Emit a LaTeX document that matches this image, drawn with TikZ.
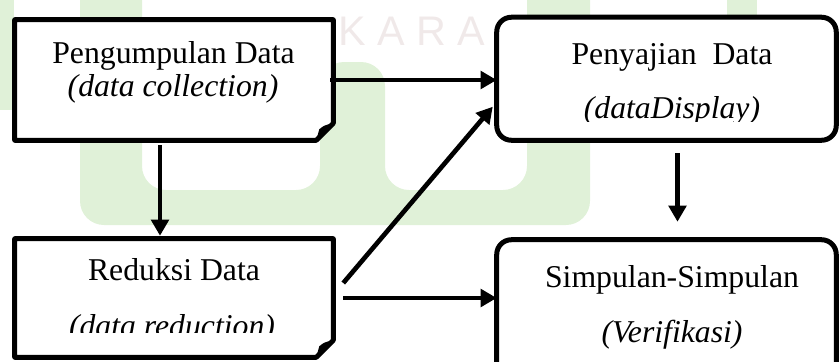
\documentclass[tikz,border=0pt]{standalone}
\usepackage{fontspec}
\setmainfont{Liberation Serif}
\newfontfamily\wmfont{Liberation Sans}
\usetikzlibrary{arrows.meta,calc,fit}
\definecolor{wmgreen}{RGB}{224,241,216}
\definecolor{wmtext}{RGB}{240,233,233}
\tikzset{
  boxline/.style={line width=3.75pt, line join=round, fill=white},
  conn/.style={line width=3.5pt, -{Triangle[length=12pt,width=13pt]}},
  txt/.style={font=\fontsize{23.8}{28}\selectfont, inner sep=0pt, anchor=base},
  area/.style={inner sep=0pt, draw=none},
}
\begin{document}
\begin{tikzpicture}[x=0.75pt,y=-0.75pt]
\useasboundingbox (0,0) rectangle (839,361);
\clip (0,0) rectangle (839,361);
% faint watermark
\fill[wmgreen] (0,0) rectangle (14,110);
\fill[wmgreen, rounded corners=18pt] (80,-40) -- (80,225) -- (590,225) -- (590,-40) -- (527,-40)
  -- (527,190) -- (385,190) -- (385,62) -- (320,62) -- (320,190) -- (142,190) -- (142,-40) -- cycle;
\fill[wmgreen] (727,0) rectangle (757,15);
\node[font=\wmfont\fontsize{31}{31}\selectfont, text=wmtext, inner sep=0pt, anchor=base west] (wm) at (338,45) {K A R A};
% box areas
\node[area, fit={(15,20) (333,140)}] (b1) {};
\node[area, fit={(15,239) (333,357)}] (b3) {};
\node[area, fit={(497,17.5) (836,140)}] (b2) {};
\node[area, fit={(497,240) (836,390)}] (b4) {};
% folded boxes
\foreach \b in {b1,b3}{
  \draw[boxline] (\b.north west) -- (\b.north east) -- ($(\b.south east)+(0,-17)$)
    -- ($(\b.south east)+(-17,0)$) -- (\b.south west) -- cycle;
  \fill ($(\b.south east)+(0,-17)$) .. controls ($(\b.south east)+(-9,-15)$) .. ($(\b.south east)+(-14,-11)$)
    -- ($(\b.south east)+(-17,0)$) -- cycle;
}
% rounded boxes
\draw[boxline, rounded corners=11pt] (b2.south west) rectangle (b2.north east);
\draw[boxline, rounded corners=11pt] (b4.south west) rectangle (b4.north east);
% texts
\node[txt] (t1) at (173.5,63) {Pengumpulan Data};
\node[txt] (t1b) at (173,96) {\itshape (data collection)};
\node[txt] (t2) at (672,64) {Penyajian\ \ Data};
\begin{scope}
\clip (497,20) rectangle (836,121);
\node[txt] (t2b) at (672,118) {\itshape (dataDisplay)};
\end{scope}
\node[txt] (t3) at (174,280) {Reduksi Data};
\begin{scope}
\clip (15,240) rectangle (333,332);
\node[txt] (t3b) at (172,336) {\itshape (data reduction)};
\end{scope}
\node[txt] (t4) at (672,287) {Simpulan-Simpulan};
\node[txt] (t4b) at (672,342) {\itshape (Verifikasi)};
% connectors
\draw[conn] ($(b1.east)+(-3,0)$) -- (b2.west |- b1.east);
\draw[conn] ($(b1.south)+(-14,5)$) -- ($(b3.north)+(-14,-3)$);
\draw[conn] ($(b3.east)+(10,-15)$) -- ($(b2.west)+(-4,28)$);
\draw[conn] ($(b3.east)+(10,0)$) -- (b4.west |- b3.east);
\draw[conn] ($(b2.south)+(11,13)$) -- ($(b4.north)+(11,-18)$);
\end{tikzpicture}
\end{document}
